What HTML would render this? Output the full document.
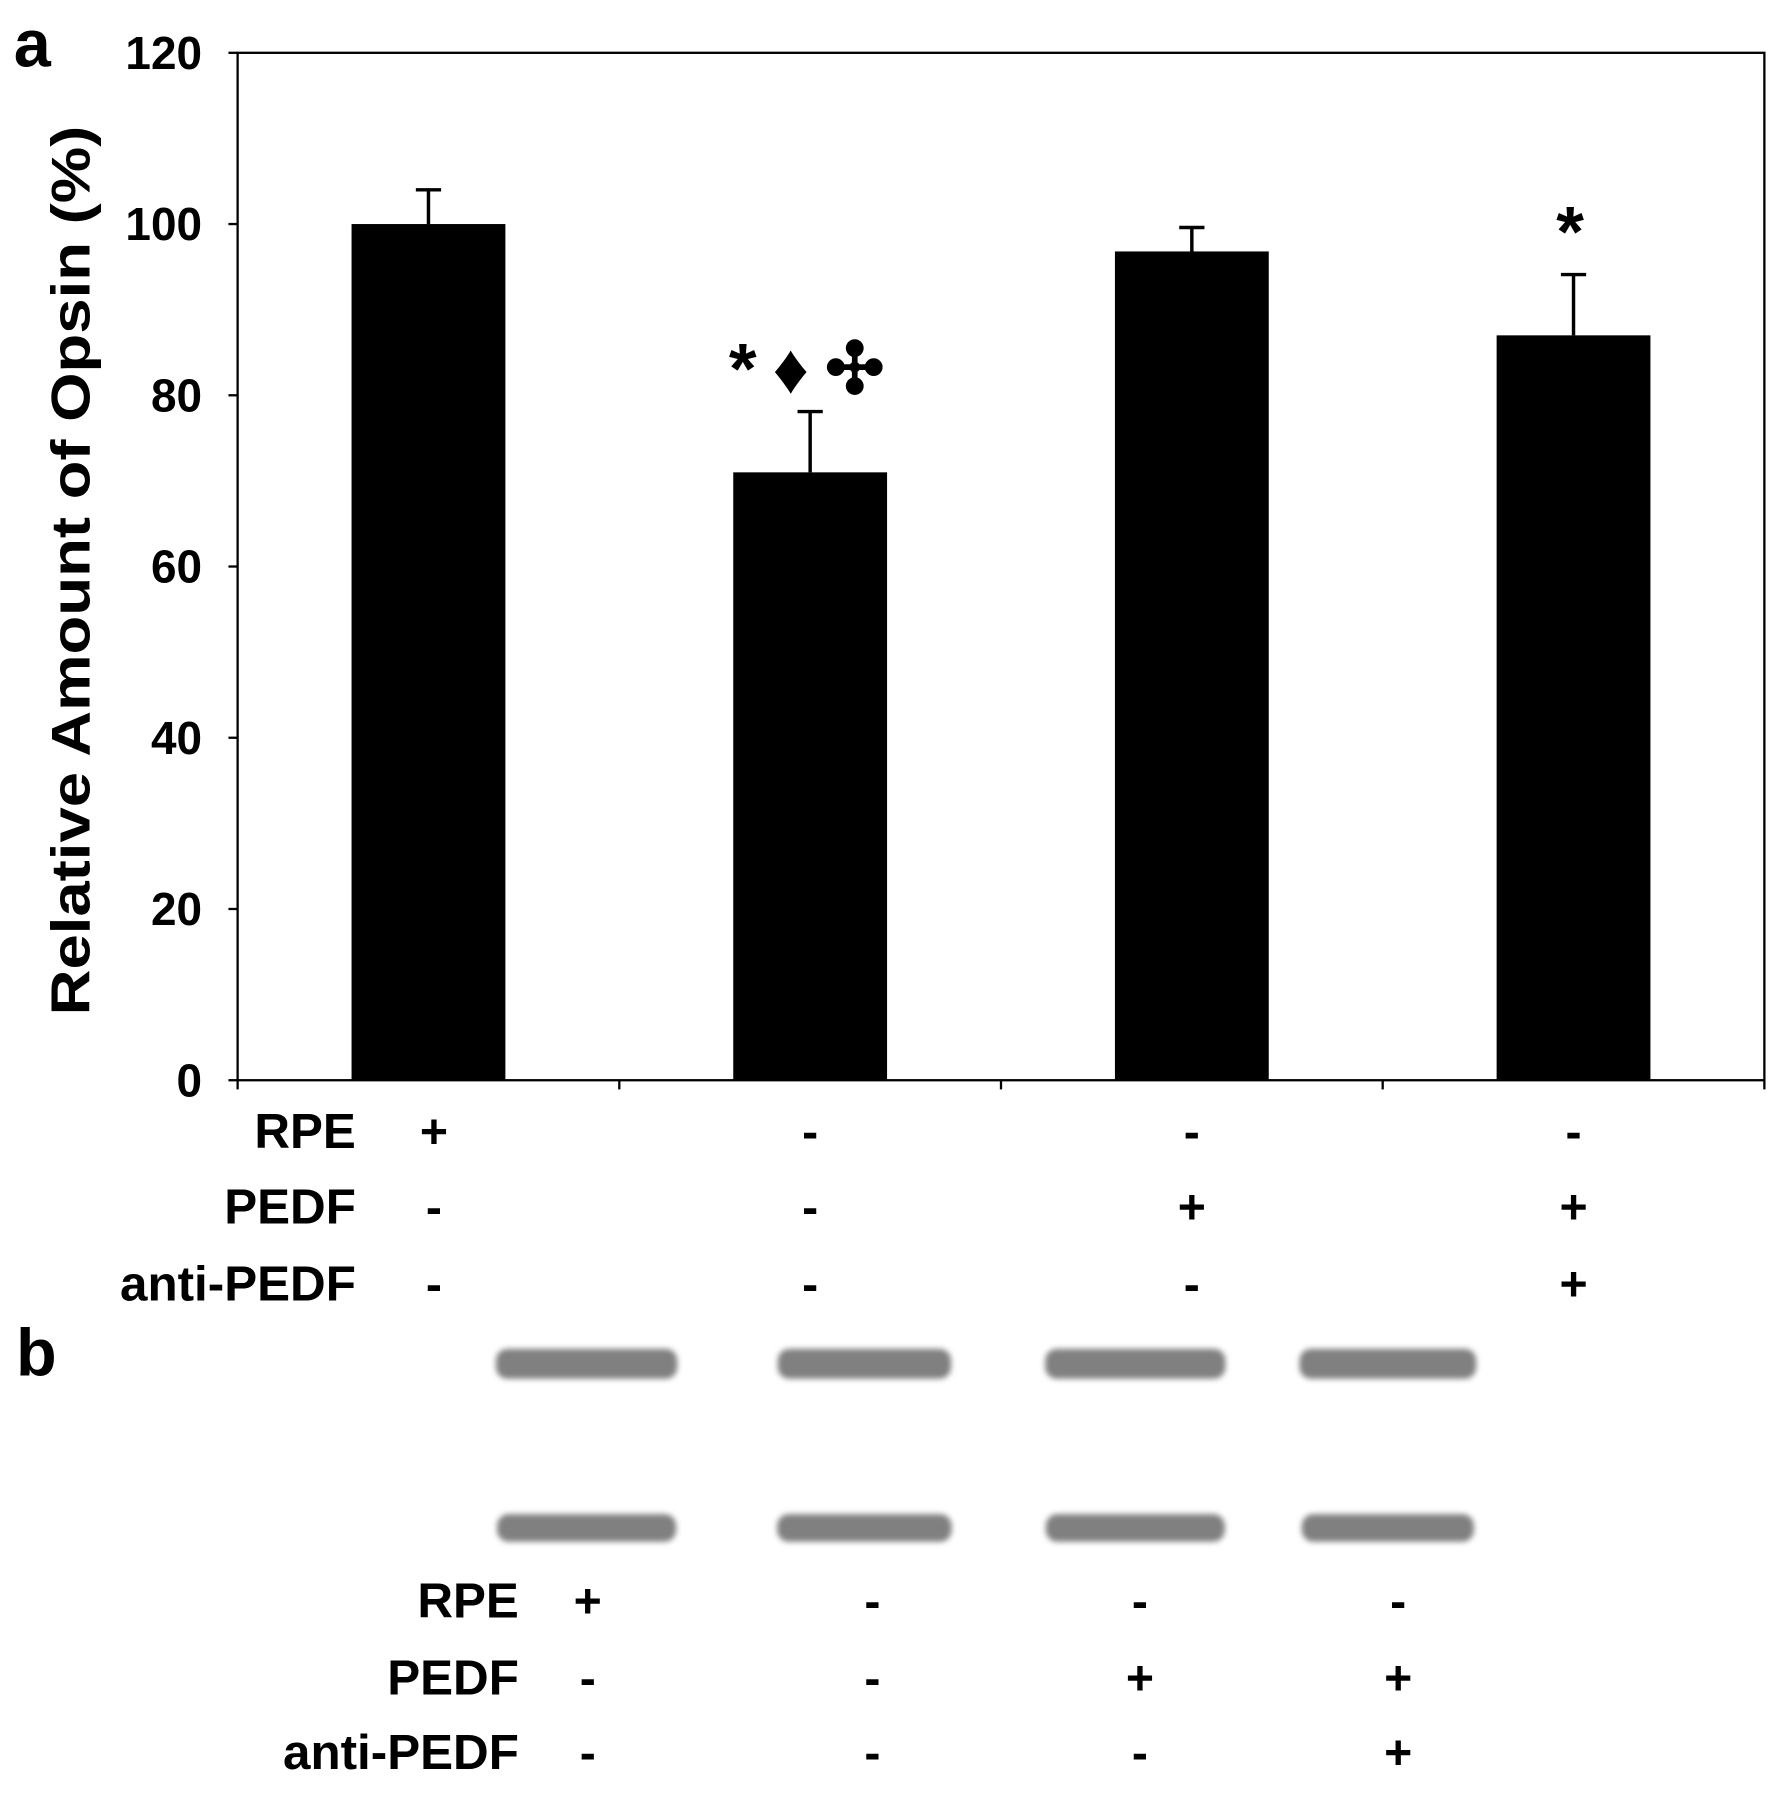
<!DOCTYPE html>
<html><head><meta charset="utf-8"><style>
html,body{margin:0;padding:0;background:#fff;}
svg{display:block;}
text{font-family:"Liberation Sans",Arial,sans-serif;font-weight:bold;fill:#000;}
</style></head><body>
<svg id="chart" width="1777" height="1800" viewBox="0 0 1548 1568" preserveAspectRatio="none" xmlns="http://www.w3.org/2000/svg">
<defs><filter id="blur" x="-10%" y="-50%" width="120%" height="200%"><feGaussianBlur stdDeviation="2.5"/></filter></defs>
<text x="12" y="58" font-size="58">a</text>
<text x="14" y="1198" font-size="58">b</text>
<text transform="translate(78,497) rotate(-90)" text-anchor="middle" font-size="48" textLength="775" lengthAdjust="spacingAndGlyphs">Relative Amount of Opsin (%)</text>
<g id="plot"></g>
</svg>
<script>
const categories = ["RPE+", "RPE-", "RPE- PEDF+", "RPE- PEDF+ anti-PEDF+"];
const values = [100, 71.0, 96.8, 87.0];
const errors = [4.0, 7.1, 2.8, 7.1];
const yTicks = [0, 20, 40, 60, 80, 100, 120];
const annotations = ["", "*\u2666\u2723", "", "*"];
const rowLabels = ["RPE", "PEDF", "anti-PEDF"];
const rowSigns = [["+","-","-","-"],["-","-","+","+"],["-","-","-","+"]];
const bandWidths1 = [158, 151, 157, 154];
const bandWidths2 = [156, 152, 156, 150];

const NS = "http://www.w3.org/2000/svg";
const g = document.getElementById("plot");
const L = 207, R = 1537, T = 46, B = 941, yMax = 120;
const y = v => B - (v / yMax) * (B - T);
const step = (R - L) / categories.length;
const xc = i => L + step * (i + 0.5);
function mk(tag, attrs, parent) {
  const e = document.createElementNS(NS, tag);
  for (const k in attrs) e.setAttribute(k, attrs[k]);
  (parent || g).appendChild(e);
  return e;
}
const frame = mk("rect", {x: L, y: T, width: R - L, height: B - T, fill: "none", stroke: "#000", "stroke-width": 2});


yTicks.forEach(t => {
  const tk = mk("line", {x1: L - 8, x2: L, y1: y(t), y2: y(t), stroke: "#000", "stroke-width": 2});
  
  
  const tl = mk("text", {x: 176, y: y(t) + 14, "text-anchor": "end", "font-size": 40});
  tl.textContent = t;
  
  
});
for (let i = 0; i <= categories.length; i++) {
  const tk = mk("line", {x1: L + step * i, x2: L + step * i, y1: B, y2: B + 8, stroke: "#000", "stroke-width": 2});
  
  
}
const bw = 134;
values.forEach((v, i) => {
  const cx = xc(i);
  const bar = mk("rect", {x: cx - bw / 2, y: y(v), width: bw, height: B - y(v), fill: "#000"});
  
  
  const e = mk("path", {d: `M${cx},${y(v)}V${y(v + errors[i])}M${cx - 11},${y(v + errors[i])}H${cx + 11}`, stroke: "#000", "stroke-width": 3, fill: "none"});
  
  
  if (annotations[i]) {
    const a = mk("text", {x: cx + 4, y: y(v + errors[i]) - 16, "text-anchor": "middle", "font-size": 62, "letter-spacing": 14});
    a.textContent = annotations[i];
    
    
  }
});
const rowYA = [1000, 1066, 1133];
rowLabels.forEach((lab, r) => {
  const t = mk("text", {x: 310, y: rowYA[r], "text-anchor": "end", "font-size": 43});
  t.textContent = lab;
  
  
  rowSigns[r].forEach((s, i) => {
    const st = mk("text", {x: i === 0 ? 378 : xc(i), y: rowYA[r], "text-anchor": "middle", "font-size": 42});
    st.textContent = s;
    
    
  });
});
const bandX = [511, 753, 989, 1209];
bandX.forEach((cx, i) => {
  const b1 = mk("rect", {x: cx - bandWidths1[i] / 2, y: 1175, width: bandWidths1[i], height: 26, rx: 10, fill: "#808080", filter: "url(#blur)"});
  
  
  const b2 = mk("rect", {x: cx - bandWidths2[i] / 2, y: 1319, width: bandWidths2[i], height: 24, rx: 10, fill: "#808080", filter: "url(#blur)"});
  
  
});
const rowYB = [1409, 1476, 1541];
const signXB = [512, 760, 993, 1218];
rowLabels.forEach((lab, r) => {
  const t = mk("text", {x: 452, y: rowYB[r], "text-anchor": "end", "font-size": 43});
  t.textContent = lab;
  
  
  rowSigns[r].forEach((s, i) => {
    const st = mk("text", {x: signXB[i], y: rowYB[r], "text-anchor": "middle", "font-size": 42});
    st.textContent = s;
    
    
  });
});
</script>
</body></html>
